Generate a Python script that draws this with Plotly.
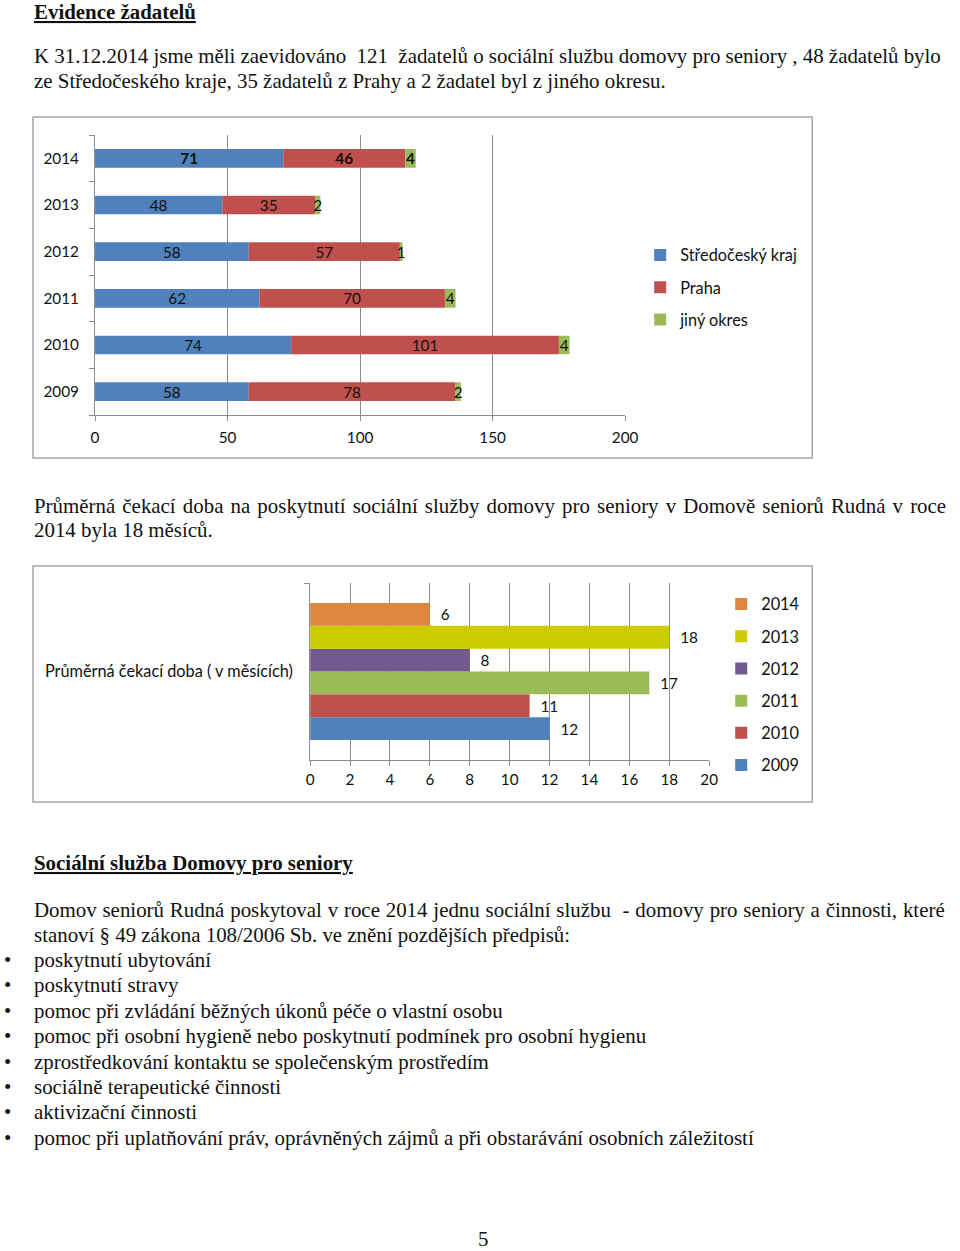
import plotly.graph_objects as go

W, H = 960, 1251

# ---------------- data ----------------
years = ["2009", "2010", "2011", "2012", "2013", "2014"]
stredocesky = [58, 74, 62, 58, 48, 71]
praha = [78, 101, 70, 57, 35, 46]
jiny = [2, 4, 4, 1, 2, 4]
series1_names = ["Středočeský kraj", "Praha", "jiný okres"]
series1_colors = ["#4F81BD", "#C0504D", "#9BBB59"]

wait_years = ["2009", "2010", "2011", "2012", "2013", "2014"]
wait_months = [12, 11, 17, 8, 18, 6]
wait_colors = ["#4F81BD", "#C0504D", "#9BBB59", "#725A91", "#CCCC00", "#E0853F"]
wait_category = ["Průměrná čekací doba ( v měsících)"]

x1_ticks = [0, 50, 100, 150, 200]
x2_ticks = [0, 2, 4, 6, 8, 10, 12, 14, 16, 18, 20]

# the captured page is squeezed horizontally (x_shown = 4 + 0.982 * x_page);
# positions below are given in shown pixels and converted here
SX, OX = 0.982, 4.0


def px(x):
    return ((x - OX) / SX) / W


def py(y):
    return 1 - y / H


CHART_FONT = "Lato"
fig = go.Figure()

# ---------------- chart 1: stacked bars (manual stacking via base) ----------------
series1 = [stredocesky, praha, jiny]
base = [0] * len(years)
for name, vals, col in zip(series1_names, series1, series1_colors):
    labels = [f"<b>{v}</b>" if y == "2014" else str(v) for y, v in zip(years, vals)]
    fig.add_trace(go.Bar(
        y=years, x=vals, base=list(base), orientation="h", name=name,
        marker=dict(color=col, line=dict(width=0)),
        width=0.4, offset=-0.2,
        text=labels, textposition="inside", insidetextanchor="middle",
        constraintext="none", textangle=0,
        textfont=dict(family=CHART_FONT, size=15.3, color="#111111"),
        xaxis="x", yaxis="y", legend="legend", legendgroup=name,
        hoverinfo="skip",
    ))
    base = [b + v for b, v in zip(base, vals)]

# ---------------- chart 2: grouped bars ----------------
n = len(wait_years)
for i, (yr, val, col) in enumerate(zip(wait_years, wait_months, wait_colors)):
    fig.add_trace(go.Bar(
        y=wait_category, x=[val], orientation="h", name=yr,
        marker=dict(color=col, line=dict(width=0)),
        text=["\u00a0\u00a0" + str(val)], textposition="outside", constraintext="none",
        cliponaxis=False,
        textfont=dict(family=CHART_FONT, size=15.3, color="#111111"),
        xaxis="x2", yaxis="y2", legend="legend2", legendgroup=yr,
        legendrank=100 + (n - i),
        hoverinfo="skip",
    ))

axis_common = dict(
    showline=True, linecolor="#8C8C8C", linewidth=1,
    ticks="outside", tickcolor="#8C8C8C", ticklen=5,
    zeroline=False, fixedrange=True,
)
tick15 = dict(family=CHART_FONT, size=15.3, color="#111111")
tick16 = dict(family=CHART_FONT, size=16.3, color="#111111")

fig.update_layout(
    width=W, height=H, autosize=False,
    margin=dict(l=0, r=0, t=0, b=0),
    paper_bgcolor="white", plot_bgcolor="white",
    barmode="group", bargap=0.226, bargroupgap=0,
    showlegend=True,
    xaxis=dict(domain=[px(95), px(625)], anchor="y", range=[0, 200],
               tickvals=x1_ticks, showgrid=True, gridcolor="#8C8C8C",
               ticklabelstandoff=4, tickfont=tick15, **axis_common),
    yaxis=dict(domain=[py(415), py(135)], anchor="x", type="category",
               categoryorder="array", categoryarray=years,
               tickson="boundaries", showgrid=False,
               ticklabelstandoff=12, tickfont=tick15, **axis_common),
    xaxis2=dict(domain=[px(310), px(709)], anchor="y2", range=[0, 20],
                tickvals=x2_ticks, showgrid=True, gridcolor="#8C8C8C",
                ticklabelstandoff=1, tickfont=tick15, **axis_common),
    yaxis2=dict(domain=[py(760), py(583)], anchor="x2", type="category",
                tickson="boundaries", showgrid=False,
                ticklabelstandoff=13, tickfont=tick16, **axis_common),
    legend=dict(x=px(640), y=py(238), xanchor="left", yanchor="top",
                font=tick16, bgcolor="rgba(0,0,0,0)", tracegroupgap=8,
                itemclick=False, itemdoubleclick=False),
    legend2=dict(x=px(721), y=py(587), xanchor="left", yanchor="top",
                 font=tick16, bgcolor="rgba(0,0,0,0)", tracegroupgap=8,
                 traceorder="grouped", itemclick=False, itemdoubleclick=False),
)

# ---------------- chart frames ----------------
for (x0, y0, x1, y1) in [(33, 117, 812, 458), (33, 566, 812, 802)]:
    fig.add_shape(type="rect", xref="paper", yref="paper",
                  x0=px(x0), x1=px(x1), y0=py(y1), y1=py(y0),
                  line=dict(color="#A6A6A6", width=1.5), fillcolor="rgba(0,0,0,0)",
                  layer="below")

# ---------------- page text ----------------
SERIF = "Liberation Serif"
TXT = "#111111"
BODY = 20.9
LX = 31.5


def text(s, x, y, size=BODY, bold=False, underline=False, anchor="left", wspace=None):
    if wspace is not None:
        s = f'<span style="word-spacing:{wspace}px">{s}</span>'
    if bold:
        s = f"<b>{s}</b>"
    if underline:
        s = f"<u>{s}</u>"
    fig.add_annotation(text=s, x=px(x), y=py(y), xref="paper", yref="paper",
                       xanchor=anchor, yanchor="middle", showarrow=False,
                       font=dict(family=SERIF, size=size, color=TXT))


text("Evidence žadatelů", LX, 12, bold=True, underline=True)
text("K 31.12.2014 jsme měli zaevidováno  121  žadatelů o sociální službu domovy pro seniory , 48 žadatelů bylo", LX, 56)
text("ze Středočeského kraje, 35 žadatelů z Prahy a 2 žadatel byl z jiného okresu.", LX, 81)
text("Průměrná čekací doba na poskytnutí sociální služby domovy pro seniory v Domově seniorů Rudná v roce", LX, 506, wspace=1.9)
text("2014 byla 18 měsíců.", LX, 530)
text("Sociální služba Domovy pro seniory", LX, 863, bold=True, underline=True)
text("Domov seniorů Rudná poskytoval v roce 2014 jednu sociální službu  - domovy pro seniory a činnosti, které", LX, 910, wspace=0.6)
text("stanoví § 49 zákona 108/2006 Sb. ve znění pozdějších předpisů:", LX, 935)

bullets = [
    "poskytnutí ubytování",
    "poskytnutí stravy",
    "pomoc při zvládání běžných úkonů péče o vlastní osobu",
    "pomoc při osobní hygieně nebo poskytnutí podmínek pro osobní hygienu",
    "zprostředkování kontaktu se společenským prostředím",
    "sociálně terapeutické činnosti",
    "aktivizační činnosti",
    "pomoc při uplatňování práv, oprávněných zájmů a při obstarávání osobních záležitostí",
]
for i, b in enumerate(bullets):
    yy = 960 + i * 25.4
    text("•", 7, yy, anchor="center")
    text(b, LX, yy)

text("5", 483, 1239, anchor="center")

fig.write_html("out.html")
